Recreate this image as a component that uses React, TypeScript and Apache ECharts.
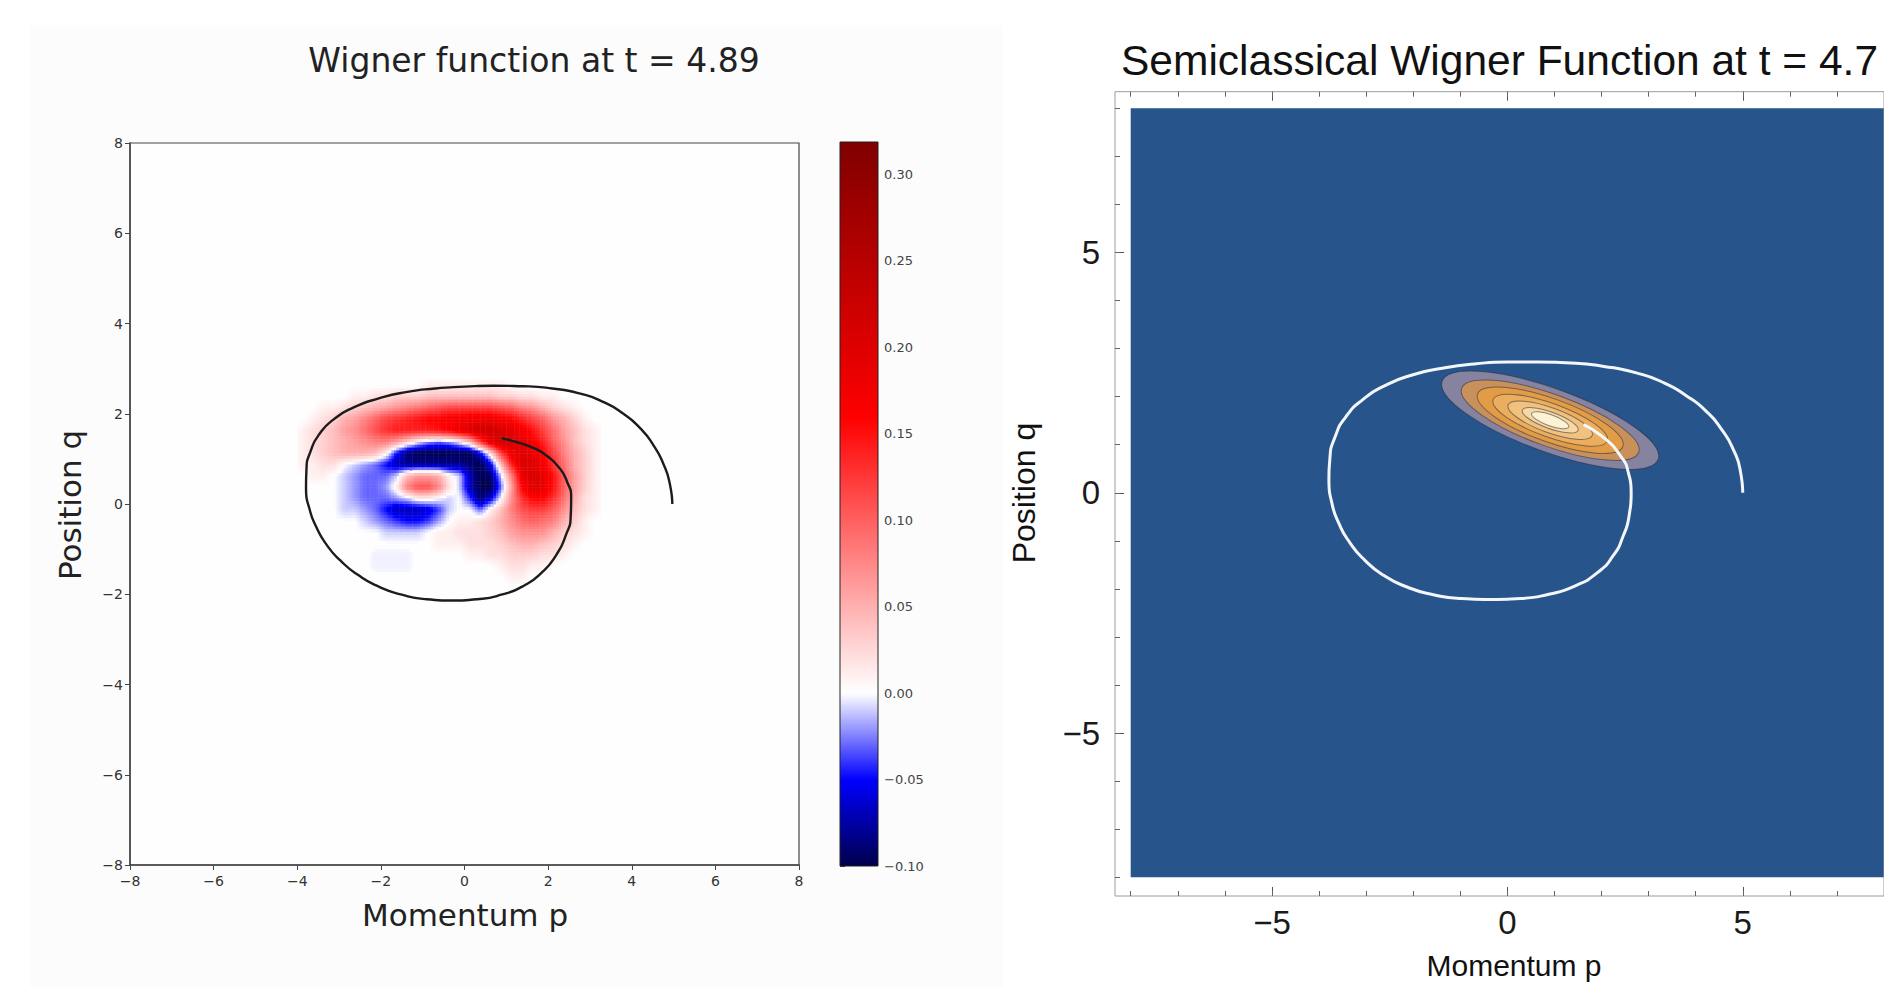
import React, { useEffect, useRef } from "react";
import * as echarts from "echarts";

// ---------------- DATA ----------------
// Left panel: Wigner function W(p, q) sampled on cell centres, in hundredths.
const momentumCenters = [
  -3.875, -3.625, -3.375, -3.125, -2.875, -2.625, -2.375, -2.125, -1.875, -1.625,
  -1.375, -1.125, -0.875, -0.625, -0.375, -0.125, 0.125, 0.375, 0.625, 0.875,
  1.125, 1.375, 1.625, 1.875, 2.125, 2.375, 2.625, 2.875, 3.125,
];
const positionCenters = [
  2.625, 2.375, 2.125, 1.875, 1.625, 1.375, 1.125, 0.875, 0.625, 0.375,
  0.125, -0.125, -0.375, -0.625, -0.875, -1.125, -1.375, -1.625,
];
const wignerHundredths = [
  [0,0,0,0,0,0,0,0,0,0,0,0,1,1,1,1,1,1,1,1,0,0,0,0,0,0,0,0,0],
  [0,0,0,0,0,1,1,2,2,3,3,3,4,4,4,4,4,4,4,3,3,2,2,1,1,0,0,0,0],
  [0,0,1,1,2,3,4,5,6,7,8,9,10,11,12,12,12,12,12,11,10,8,7,5,3,2,1,0,0],
  [0,1,2,3,5,6,8,10,12,13,14,15,16,16,17,17,18,18,18,17,16,14,12,10,7,5,3,1,0],
  [1,2,3,4,6,7,9,11,13,14,14,14,14,15,16,18,20,22,22,21,19,17,15,12,9,6,4,2,1],
  [1,2,3,4,5,6,7,8,8,6,3,0,-2,-3,-2,0,4,12,19,22,21,19,17,14,10,7,4,2,1],
  [1,2,3,4,5,5,5,4,1,-5,-9,-10,-10,-10,-10,-10,-10,-6,2,12,18,20,19,16,12,8,5,3,1],
  [1,1,2,2,0,-1,-2,-3,-5,-7,-8,-8,-8,-8,-8,-8,-9,-10,-6,4,14,20,20,17,13,9,5,3,1],
  [0,1,1,0,-1,-2,-3,-3,-3,-1,4,6,6,5,1,-1,-7,-10,-9,-1,8,18,21,19,15,10,6,3,1],
  [0,0,0,0,-1,-2,-3,-3,-2,1,8,11,11,8,2,-1,-7,-10,-10,-3,6,16,20,19,15,10,6,3,1],
  [0,0,0,0,-1,-2,-3,-3,-3,-2,-1,1,1,0,-1,0,-4,-9,-6,0,7,13,16,16,13,9,5,2,1],
  [0,0,0,0,-1,-1,-2,-3,-5,-7,-7,-7,-6,-4,-1,0,0,-3,1,4,8,11,12,12,10,7,4,2,1],
  [0,0,0,0,0,0,-1,-2,-3,-4,-5,-5,-4,-2,0,1,1,2,3,5,7,9,10,9,8,5,3,1,0],
  [0,0,0,0,0,0,0,0,-1,-1,-1,-1,0,1,1,2,2,2,3,4,6,7,7,7,5,3,2,1,0],
  [0,0,0,0,0,0,0,0,0,0,0,0,0,1,1,1,2,2,2,3,4,5,5,4,3,2,1,0,0],
  [0,0,0,0,0,0,0,-0.3,-0.3,-0.3,-0.3,0,0,0,0,0,1,1,2,2,3,3,3,2,2,1,0,0,0],
  [0,0,0,0,0,0,0,-0.3,-0.3,-0.3,-0.3,0,0,0,0,0,0,0,0,1,2,2,1,1,0,0,0,0,0],
  [0,0,0,0,0,0,0,0,0,0,0,0,0,0,0,0,0,0,0,0,1,1,0,0,0,0,0,0,0],
];

// Left panel: classical orbit (black) as [p, q]
const orbitLeft = [
  [4.97, 0.0], [4.91, 0.45], [4.76, 0.88], [4.52, 1.3], [4.2, 1.68], [3.8, 2.0],
  [3.3, 2.27], [2.75, 2.45], [2.1, 2.56], [1.4, 2.61], [0.7, 2.62], [0, 2.6],
  [-0.7, 2.56], [-1.4, 2.48], [-2.05, 2.34], [-2.65, 2.14], [-3.12, 1.88],
  [-3.47, 1.55], [-3.68, 1.17], [-3.78, 0.76], [-3.79, 0.33], [-3.71, -0.1],
  [-3.55, -0.5], [-3.3, -0.9], [-2.97, -1.25], [-2.55, -1.57], [-2.05, -1.83],
  [-1.5, -2.01], [-0.9, -2.11], [-0.3, -2.14], [0.3, -2.11], [0.88, -2.01],
  [1.42, -1.81], [1.87, -1.5], [2.2, -1.12], [2.42, -0.7], [2.54, -0.27],
  [2.55, 0.13], [2.45, 0.5], [2.25, 0.82], [1.95, 1.08], [1.6, 1.26], [1.25, 1.37],
  [0.89, 1.46],
];

// Right panel: classical orbit (white) as [p, q]
const orbitRight = [
  [5.0, 0], [4.95, 0.45], [4.8, 0.9], [4.55, 1.32], [4.22, 1.7], [3.8, 2.02],
  [3.3, 2.3], [2.72, 2.5], [2.05, 2.63], [1.35, 2.7], [0.65, 2.72], [0, 2.72],
  [-0.7, 2.68], [-1.38, 2.59], [-2.02, 2.45], [-2.6, 2.23], [-3.07, 1.94],
  [-3.43, 1.58], [-3.66, 1.16], [-3.77, 0.7], [-3.79, 0.25], [-3.73, -0.2],
  [-3.58, -0.63], [-3.35, -1.03], [-3.03, -1.4], [-2.62, -1.72], [-2.13, -1.96],
  [-1.57, -2.12], [-0.97, -2.2], [-0.35, -2.22], [0.28, -2.2], [0.88, -2.11],
  [1.43, -1.94], [1.9, -1.67], [2.24, -1.32], [2.46, -0.9], [2.59, -0.45],
  [2.63, 0.0], [2.57, 0.42], [2.38, 0.8], [2.08, 1.12], [1.62, 1.42],
];

// Right panel: filled contour levels of the semiclassical Wigner function
const contourCenterP = 0.91;
const contourCenterQ = 1.51;
const contourTiltDeg = -19.9;
const contourSemiMajor = [2.44, 2.0, 1.64, 1.29, 0.95, 0.63, 0.42];
const contourSemiMinor = [0.66, 0.54, 0.45, 0.35, 0.26, 0.17, 0.115];
const contourColors = ["#85839f", "#c8905a", "#e29c46", "#eaae5e", "#f0c27e", "#f6d8a6", "#fdf3d4"];

// Tick labels
const leftAxisMin = -8;
const leftAxisMax = 8;
const leftAxisStep = 2;
const colorbarMin = -0.1;
const colorbarMax = 0.3187;
const colorbarStep = 0.05;
const rightMajorTicks = [-5, 0, 5];
const rightAxisMin = -8;
const rightAxisMax = 8;

// ---------------- styling / layout ----------------
const DEJAVU = "'DejaVu Sans', 'Liberation Sans', sans-serif";
const ARIAL = "'Liberation Sans', Arial, sans-serif";
const BLUE_BG = "#26548b";

const LEFT_GRID = { left: 130, top: 143, width: 669, height: 722 };
const CBAR_GRID = { left: 840, top: 142, width: 38, height: 724 };
const RIGHT_GRID = { left: 1130.7, top: 108.3, width: 768, height: 769 };
const RIGHT_FRAME = { left: 1115, top: 91.7, width: 800, height: 804.3 };
const SUBDIV = 4; // image-style smoothing of each cell when drawn (like imshow interpolation)

// matplotlib "seismic" colour map anchors + two-slope norm centred at 0
const seismicAnchors = [
  [0, 0, 77],
  [0, 0, 255],
  [255, 255, 255],
  [255, 0, 0],
  [128, 0, 0],
];
function seismicAt(t: number) {
  const tt = Math.max(0, Math.min(1, t));
  const s = tt * 4;
  const i = Math.min(3, Math.floor(s));
  const f = s - i;
  const a = seismicAnchors[i];
  const b = seismicAnchors[i + 1];
  const c = [0, 1, 2].map((k) => Math.round(a[k] + (b[k] - a[k]) * f));
  return `rgb(${c[0]},${c[1]},${c[2]})`;
}
function twoSlope(v: number) {
  return v <= 0 ? (0.5 * (v - colorbarMin)) / (0 - colorbarMin) : 0.5 + (0.5 * v) / colorbarMax;
}
const colorOf = (v: number) => seismicAt(twoSlope(v));
const COLOR_STEPS = 168;
const colorList: string[] = [];
for (let i = 0; i <= COLOR_STEPS; i++) {
  const v = colorbarMin + ((colorbarMax - colorbarMin) * i) / COLOR_STEPS;
  colorList.push(colorOf(v));
}

const fmtInt = (v: number) => (v < 0 ? "\u2212" + Math.abs(v) : String(v));
const fmtCbar = (v: number) => {
  const a = Math.abs(v) < 1e-9 ? 0 : v;
  return (a < 0 ? "\u2212" : "") + Math.abs(a).toFixed(2);
};

function buildOption() {
  const cellHalfP = (momentumCenters[1] - momentumCenters[0]) / 2;
  const cellHalfQ = Math.abs(positionCenters[0] - positionCenters[1]) / 2;
  const nRows = positionCenters.length;
  const nCols = momentumCenters.length;
  const cellValue = (r: number, c: number) =>
    r < 0 || c < 0 || r >= nRows || c >= nCols ? 0 : wignerHundredths[r][c] / 100;

  const heatData: number[][] = [];
  positionCenters.forEach((q, r) => {
    momentumCenters.forEach((p, c) => {
      heatData.push([p, q, wignerHundredths[r][c] / 100, r, c]);
    });
  });

  const contourData = contourSemiMajor.map((a, i) => [
    contourCenterP,
    contourCenterQ,
    a,
    contourSemiMinor[i],
    contourTiltDeg,
    i,
  ]);

  const gradientStops = colorList.map((c, i) => ({ offset: i / COLOR_STEPS, color: c }));

  const leftAxisCommon = {
    type: "value",
    min: leftAxisMin,
    max: leftAxisMax,
    interval: leftAxisStep,
    splitLine: { show: false },
    axisLine: { show: true, onZero: false, lineStyle: { color: "#444", width: 1.5 } },
    axisTick: { show: true, length: 5, lineStyle: { color: "#444", width: 1 } },
    axisLabel: { fontSize: 14, color: "#333", fontFamily: DEJAVU, formatter: fmtInt },
  };

  const rightMajor = (position: string, offset: number, labels: boolean, margin: number) => ({
    type: "value",
    gridIndex: 2,
    min: rightAxisMin,
    max: rightAxisMax,
    position,
    offset,
    splitLine: { show: false },
    axisLine: { show: false, onZero: false },
    axisTick: {
      show: true,
      inside: true,
      length: 9,
      customValues: rightMajorTicks,
      lineStyle: { color: "#555", width: 1 },
    },
    axisLabel: labels
      ? {
          show: true,
          customValues: rightMajorTicks,
          fontSize: 33,
          color: "#1a1a1a",
          fontFamily: ARIAL,
          margin,
          formatter: fmtInt,
        }
      : { show: false },
  });
  const rightMinor = (position: string, offset: number) => ({
    type: "value",
    gridIndex: 2,
    min: rightAxisMin,
    max: rightAxisMax,
    interval: 1,
    position,
    offset,
    splitLine: { show: false },
    axisLine: { show: false, onZero: false },
    axisTick: { show: true, inside: true, length: 5, lineStyle: { color: "#666", width: 1 } },
    axisLabel: { show: false },
  });

  return {
    animation: false,
    backgroundColor: "#ffffff",
    grid: [
      { ...LEFT_GRID, show: true, backgroundColor: "#fefefe", borderColor: "#444", borderWidth: 1.2 },
      { ...CBAR_GRID, show: true, backgroundColor: "transparent", borderColor: "#222", borderWidth: 1, z: 5 },
      { ...RIGHT_GRID, show: true, backgroundColor: BLUE_BG, borderWidth: 0 },
      { ...RIGHT_FRAME, show: true, backgroundColor: "transparent", borderColor: "#9c9c9c", borderWidth: 1 },
    ],
    xAxis: [
      { ...leftAxisCommon, gridIndex: 0, position: "bottom", axisLabel: { ...leftAxisCommon.axisLabel, margin: 9 } },
      { type: "value", gridIndex: 1, min: 0, max: 1, show: false },
      rightMajor("bottom", 18.7, true, 10),
      rightMinor("bottom", 18.7),
      rightMajor("top", 16.6, false, 10),
      rightMinor("top", 16.6),
      { type: "value", gridIndex: 3, min: 0, max: 1, show: false },
    ],
    yAxis: [
      { ...leftAxisCommon, gridIndex: 0, position: "left", axisLabel: { ...leftAxisCommon.axisLabel, margin: 7 } },
      {
        type: "value",
        gridIndex: 1,
        position: "right",
        min: colorbarMin,
        max: colorbarMax,
        interval: colorbarStep,
        splitLine: { show: false },
        axisLine: { show: false },
        axisTick: { show: true, length: 5, lineStyle: { color: "#444" } },
        axisLabel: { fontSize: 13, color: "#444", fontFamily: DEJAVU, margin: 6, showMaxLabel: false, formatter: fmtCbar },
      },
      rightMajor("left", 15.7, true, 15),
      rightMinor("left", 15.7),
      { type: "value", gridIndex: 3, min: 0, max: 1, show: false },
    ],
    series: [
      {
        type: "custom",
        name: "Wigner function",
        xAxisIndex: 0,
        yAxisIndex: 0,
        encode: { x: 0, y: 1 },
        data: heatData,
        renderItem: (params: any, api: any) => {
          const p = api.value(0);
          const q = api.value(1);
          const r = api.value(3);
          const c = api.value(4);
          const tl = api.coord([p - cellHalfP, q + cellHalfQ]);
          const br = api.coord([p + cellHalfP, q - cellHalfQ]);
          const w = (br[0] - tl[0]) / SUBDIV;
          const h = (br[1] - tl[1]) / SUBDIV;
          const children: any[] = [];
          for (let j = 0; j < SUBDIV; j++) {
            for (let i = 0; i < SUBDIV; i++) {
              const fc = c + (i + 0.5) / SUBDIV - 0.5;
              const fr = r + (j + 0.5) / SUBDIV - 0.5;
              const c0 = Math.floor(fc);
              const r0 = Math.floor(fr);
              const tx = fc - c0;
              const ty = fr - r0;
              const v =
                (1 - tx) * (1 - ty) * cellValue(r0, c0) +
                tx * (1 - ty) * cellValue(r0, c0 + 1) +
                (1 - tx) * ty * cellValue(r0 + 1, c0) +
                tx * ty * cellValue(r0 + 1, c0 + 1);
              if (Math.abs(v) < 0.0012) continue;
              children.push({
                type: "rect",
                shape: { x: tl[0] + i * w, y: tl[1] + j * h, width: w + 0.45, height: h + 0.45 },
                style: { fill: colorOf(v) },
              });
            }
          }
          return { type: "group", children };
        },
        z: 2,
      },
      {
        type: "line",
        name: "orbit left",
        xAxisIndex: 0,
        yAxisIndex: 0,
        data: orbitLeft,
        smooth: 0.6,
        showSymbol: false,
        symbol: "none",
        lineStyle: { color: "#1c1c1c", width: 2.4 },
        z: 4,
      },
      {
        type: "custom",
        name: "colorbar",
        xAxisIndex: 1,
        yAxisIndex: 1,
        data: [[0, colorbarMin, 1, colorbarMax]],
        renderItem: (params: any, api: any) => {
          const a = api.coord([api.value(0), api.value(1)]);
          const b = api.coord([api.value(2), api.value(3)]);
          return {
            type: "rect",
            shape: { x: a[0], y: b[1], width: b[0] - a[0], height: a[1] - b[1] },
            style: { fill: new echarts.graphic.LinearGradient(0, 1, 0, 0, gradientStops) },
          };
        },
        z: 2,
      },
      {
        type: "custom",
        name: "semiclassical contours",
        xAxisIndex: 2,
        yAxisIndex: 2,
        encode: { x: 0, y: 1 },
        data: contourData,
        renderItem: (params: any, api: any) => {
          const c = api.coord([api.value(0), api.value(1)]);
          const s = api.size([1, 1]);
          const idx = api.value(5);
          return {
            type: "ellipse",
            x: c[0],
            y: c[1],
            rotation: (api.value(4) * Math.PI) / 180,
            shape: { cx: 0, cy: 0, rx: api.value(2) * s[0], ry: api.value(3) * s[1] },
            style: { fill: contourColors[idx], stroke: "rgba(45,45,60,0.55)", lineWidth: 1 },
          };
        },
        z: 2,
      },
      {
        type: "line",
        name: "orbit right",
        xAxisIndex: 2,
        yAxisIndex: 2,
        data: orbitRight,
        smooth: 0.6,
        showSymbol: false,
        symbol: "none",
        lineStyle: { color: "#f3f6fb", width: 3 },
        z: 4,
      },
    ],
    graphic: [
      {
        type: "rect",
        z: -100,
        silent: true,
        shape: { x: 30, y: 25, width: 973, height: 962 },
        style: { fill: "#fcfcfc" },
      },
      {
        type: "text",
        x: 534,
        y: 60,
        style: {
          text: "Wigner function at t = 4.89",
          fontSize: 33,
          fontFamily: DEJAVU,
          fill: "#222",
          align: "center",
          verticalAlign: "middle",
        },
      },
      {
        type: "text",
        x: 465,
        y: 915,
        style: {
          text: "Momentum p",
          fontSize: 31,
          fontFamily: DEJAVU,
          fill: "#222",
          align: "center",
          verticalAlign: "middle",
        },
      },
      {
        type: "text",
        x: 70,
        y: 505,
        rotation: Math.PI / 2,
        style: {
          text: "Position q",
          fontSize: 31,
          fontFamily: DEJAVU,
          fill: "#222",
          align: "center",
          verticalAlign: "middle",
        },
      },
      {
        type: "text",
        x: 1121,
        y: 60,
        style: {
          text: "Semiclassical Wigner Function at t = 4.7",
          fontSize: 42.5,
          fontFamily: ARIAL,
          fill: "#111",
          align: "left",
          verticalAlign: "middle",
        },
      },
      {
        type: "text",
        x: 1514,
        y: 965,
        style: {
          text: "Momentum p",
          fontSize: 30,
          fontFamily: ARIAL,
          fill: "#111",
          align: "center",
          verticalAlign: "middle",
        },
      },
      {
        type: "text",
        x: 1024,
        y: 493,
        rotation: Math.PI / 2,
        style: {
          text: "Position q",
          fontSize: 32,
          fontFamily: ARIAL,
          fill: "#111",
          align: "center",
          verticalAlign: "middle",
        },
      },
    ],
  };
}

export default function App() {
  const ref = useRef<HTMLDivElement>(null);
  useEffect(() => {
    if (!ref.current) return;
    const chart = echarts.init(ref.current, null, { renderer: "svg" });
    chart.setOption(buildOption() as any);
    return () => {
      chart.dispose();
    };
  }, []);
  return (
    <div
      ref={ref}
      style={{ position: "absolute", left: 0, top: 0, width: 1884, height: 987, background: "#fff" }}
    />
  );
}
